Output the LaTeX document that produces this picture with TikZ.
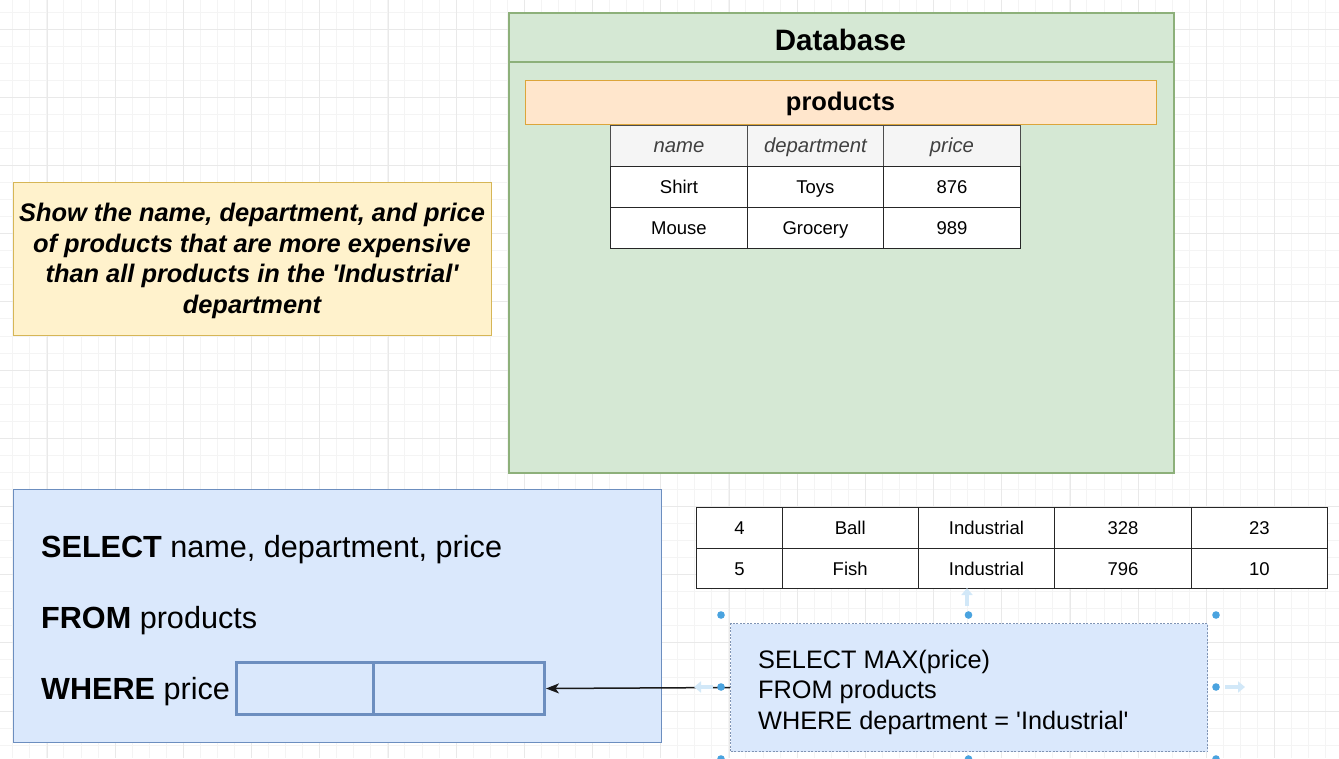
\documentclass[tikz,border=0pt]{standalone}
\usepackage{fontspec}
\setmainfont{Liberation Sans}
\usetikzlibrary{arrows.meta}
\definecolor{gridminor}{HTML}{F4F4F4}
\definecolor{gridmajor}{HTML}{E9E9E9}
\definecolor{dbfill}{HTML}{D5E8D4}
\definecolor{dbline}{HTML}{8DB07A}
\definecolor{prodfill}{HTML}{FFE6CC}
\definecolor{prodline}{HTML}{DCA53A}
\definecolor{notefill}{HTML}{FFF2CC}
\definecolor{noteline}{HTML}{D6B656}
\definecolor{bluefill}{HTML}{DAE8FC}
\definecolor{blueline}{HTML}{6C8EBF}
\definecolor{hdrfill}{HTML}{F5F5F5}
\definecolor{handle}{HTML}{4AA3DF}
\definecolor{hover}{HTML}{D2E8F8}
\definecolor{selline}{HTML}{8094B4}
\newcommand{\sq}{\textquotesingle}
\tikzset{
  box/.style={rectangle, inner sep=0pt, anchor=north west},
  cell/.style={box, draw=black!85, line width=1.4pt, fill=white,
    text height=13.2pt, text depth=0pt,
    font=\fontsize{18.5}{22}\selectfont},
  hdrcell/.style={cell, fill=hdrfill, draw=black!70, text=black!75,
    text height=14pt, font=\fontsize{20.3}{22}\selectfont\itshape},
  wherecell/.style={box, draw=blueline, line width=3pt, fill=bluefill},
  sqlline/.style={inner sep=0pt, anchor=base west, font=\fontsize{30.6}{36}\selectfont},
  subline/.style={inner sep=0pt, anchor=base west, font=\fontsize{25.3}{30}\selectfont},
  hoverarrow/.style={draw=hover, line width=3.5pt, -{Triangle[length=7pt,width=11pt]}},
}
\begin{document}
\begin{tikzpicture}[x=1pt,y=-1pt]
\useasboundingbox (0,0) rectangle (1339,758);
\fill[white] (0,0) rectangle (1339,758);
% grid
\foreach \i in {0,...,79} \draw[gridminor, line width=0.8pt] ({12.7+17.05*\i},0) -- ({12.7+17.05*\i},758);
\foreach \i in {0,...,44} \draw[gridminor, line width=0.8pt] (0,{11.95+17.05*\i}) -- (1339,{11.95+17.05*\i});
\foreach \i in {0,...,19} \draw[gridmajor, line width=0.9pt] ({47+68.2*\i},0) -- ({47+68.2*\i},758);
\foreach \i in {0,...,11} \draw[gridmajor, line width=0.9pt] (0,{29+68.2*\i}) -- (1339,{29+68.2*\i});

% Database container
\node[box, draw=dbline, fill=dbfill, line width=1.5pt, minimum width=665pt, minimum height=460pt] (db) at (508,12) {};
\draw[dbline, line width=1.5pt] ([yshift=-50pt]db.north west) -- ([yshift=-50pt]db.north east);
\node[anchor=base, inner sep=0pt, font=\fontsize{29.5}{34}\selectfont\bfseries] (dbtitle) at (840.5,50) {Database};

% products table
\node[box, draw=prodline, fill=prodfill, line width=1.3pt, minimum width=631pt, minimum height=44pt] (prod) at (525,80) {};
\node[anchor=base, inner sep=0pt, font=\fontsize{25.5}{30}\selectfont\bfseries] (prodtitle) at (840.5,110) {products};

\node[hdrcell, minimum width=136.5pt, minimum height=40.5pt] (h1) at (610,125) {name};
\node[hdrcell, minimum width=136.5pt, minimum height=40.5pt] (h2) at (746.5,125) {department};
\node[hdrcell, minimum width=136.5pt, minimum height=40.5pt] (h3) at (883,125) {price};
\node[cell, minimum width=136.5pt, minimum height=41pt] (r1a) at (610,165.5) {Shirt};
\node[cell, minimum width=136.5pt, minimum height=41pt] (r1b) at (746.5,165.5) {Toys};
\node[cell, minimum width=136.5pt, minimum height=41pt] (r1c) at (883,165.5) {876};
\node[cell, minimum width=136.5pt, minimum height=41pt] (r2a) at (610,206.5) {Mouse};
\node[cell, minimum width=136.5pt, minimum height=41pt] (r2b) at (746.5,206.5) {Grocery};
\node[cell, minimum width=136.5pt, minimum height=41pt] (r2c) at (883,206.5) {989};

% question note
\node[box, draw=noteline, fill=notefill, line width=1.3pt, minimum width=478pt, minimum height=153pt] (note) at (13,182) {};
\node[align=center, inner sep=0pt, font=\fontsize{25.4}{30.7}\selectfont\bfseries\itshape] (notetext) at (252,261)
  {Show the name, department, and price\\of products that are more expensive\\than all products in the \sq Industrial\sq\\department};

% main query box
\node[box, draw=blueline, fill=bluefill, line width=1.3pt, minimum width=648pt, minimum height=253pt] (query) at (13,489) {};
\node[sqlline] (qsel) at (41,557) {\textbf{SELECT} name, department, price};
\node[sqlline] (qfrom) at (41,628) {\textbf{FROM} products};
\node[sqlline] (qwhere) at (41,699) {\textbf{WHERE} price};
\node[wherecell, minimum width=137pt, minimum height=52pt] (w1) at (235,661) {};
\node[wherecell, minimum width=171pt, minimum height=52pt] (w2) at (372,661) {};

% industrial rows table
\node[cell, minimum width=85.5pt, minimum height=40.5pt] (i1a) at (696,507) {4};
\node[cell, minimum width=136pt, minimum height=40.5pt] (i1b) at (781.5,507) {Ball};
\node[cell, minimum width=136.5pt, minimum height=40.5pt] (i1c) at (917.5,507) {Industrial};
\node[cell, minimum width=136.5pt, minimum height=40.5pt] (i1d) at (1054,507) {328};
\node[cell, minimum width=136.5pt, minimum height=40.5pt] (i1e) at (1190.5,507) {23};
\node[cell, minimum width=85.5pt, minimum height=40.5pt] (i2a) at (696,547.5) {5};
\node[cell, minimum width=136pt, minimum height=40.5pt] (i2b) at (781.5,547.5) {Fish};
\node[cell, minimum width=136.5pt, minimum height=40.5pt] (i2c) at (917.5,547.5) {Industrial};
\node[cell, minimum width=136.5pt, minimum height=40.5pt] (i2d) at (1054,547.5) {796};
\node[cell, minimum width=136.5pt, minimum height=40.5pt] (i2e) at (1190.5,547.5) {10};

% subquery box (selected)
\node[box, draw=selline, dashed, dash pattern=on 2pt off 1.5pt, fill=bluefill, line width=1pt, minimum width=477pt, minimum height=128pt] (sub) at (730,623) {};
\node[subline] (s1) at (758,668) {SELECT MAX(price)};
\node[subline] (s2) at (758,698.5) {FROM products};
\node[subline] (s3) at (758,729) {WHERE department = \sq Industrial\sq};

% connector
\draw[black!90, line width=1.5pt, -{Stealth[length=13pt,width=10pt,inset=3.5pt]}] (sub.west) -- (w2.east);

% selection handles and hover arrows
\draw[hoverarrow] (967,606) -- (967,588);
\draw[hoverarrow] (713,687) -- (694,687);
\draw[hoverarrow] (1225,687) -- (1245,687);
\foreach \p in {(721,615),(968.5,615),(1216,615),(721,687),(1216,687),(721,759),(968.5,759),(1216,759)}
  \fill[handle] \p circle (3.8pt);
\end{tikzpicture}
\end{document}
